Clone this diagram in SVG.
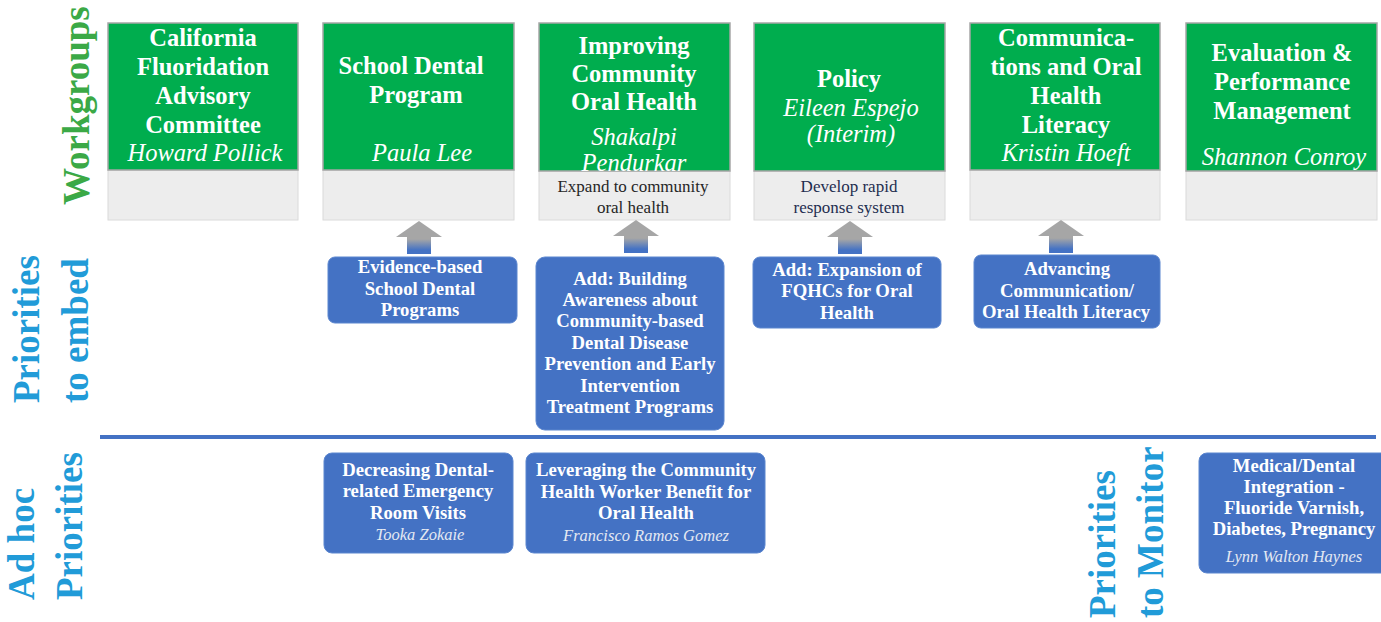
<svg xmlns="http://www.w3.org/2000/svg" width="1381" height="622" viewBox="0 0 1381 622">
<defs>
<linearGradient id="ag" x1="0" y1="0" x2="0" y2="1">
<stop offset="0" stop-color="#A6A6A6"/>
<stop offset="0.55" stop-color="#A6A6A6"/>
<stop offset="0.88" stop-color="#4472C4"/>
<stop offset="1" stop-color="#4472C4"/>
</linearGradient>
<style>
.g{fill:#00AD4E;stroke:#A6A6A6;stroke-width:1.5}
.gb{fill:#EDEDED;stroke:#DADADA;stroke-width:1}
.b{fill:#4472C4;stroke:#5B86CF;stroke-width:1}
.t{font-family:"Liberation Serif",serif;fill:#fff;text-anchor:middle}
.wt{font-size:24.5px;font-weight:bold}
.wn{font-size:24.5px;font-style:italic}
.gt{font-size:17px;fill:#262626}
.bt{font-size:18.7px;font-weight:bold}
.bn{font-size:16.5px;font-style:italic;fill:#E4E9F2}
.lab{font-family:"Liberation Serif",serif;font-size:37px;font-weight:bold}
.arr{fill:url(#ag)}
</style>
</defs>
<rect width="1381" height="622" fill="#fff"/>

<g id="label-workgroups"><text class="lab" fill="#3BA946" transform="translate(89,205) rotate(-90)">Workgroups</text></g>
<g id="label-embed" fill="#219BD8">
<text class="lab" transform="translate(39,403) rotate(-90)">Priorities</text>
<text class="lab" transform="translate(88,403) rotate(-90)">to embed</text>
</g>
<g id="label-adhoc" fill="#219BD8">
<text class="lab" transform="translate(34,600) rotate(-90)">Ad hoc</text>
<text class="lab" transform="translate(82,600) rotate(-90)">Priorities</text>
</g>
<g id="label-monitor" fill="#219BD8">
<text class="lab" transform="translate(1115,618) rotate(-90)">Priorities</text>
<text class="lab" transform="translate(1163,618) rotate(-90)">to Monitor</text>
</g>

<g id="wg1">
<rect class="gb" x="108" y="170" width="190" height="50"/>
<rect class="g" x="108" y="23" width="190" height="147"/>
<text class="t wt" x="203" y="46">California</text>
<text class="t wt" x="203" y="75">Fluoridation</text>
<text class="t wt" x="203" y="104">Advisory</text>
<text class="t wt" x="203" y="133">Committee</text>
<text class="t wn" x="205" y="161">Howard Pollick</text>
</g>
<g id="wg2">
<rect class="gb" x="323" y="170" width="191" height="50"/>
<rect class="g" x="323" y="23" width="191" height="147"/>
<text class="t wt" x="411" y="74">School Dental</text>
<text class="t wt" x="416" y="103">Program</text>
<text class="t wn" x="422" y="161">Paula Lee</text>
</g>
<g id="wg3">
<rect class="gb" x="539" y="171" width="191" height="49"/>
<rect class="g" x="539" y="23" width="191" height="148"/>
<text class="t wt" x="634" y="54">Improving</text>
<text class="t wt" x="634" y="82">Community</text>
<text class="t wt" x="634" y="110">Oral Health</text>
<text class="t wn" x="634" y="145">Shakalpi</text>
<text class="t wn" x="634" y="171">Pendurkar</text>
<text class="t gt" x="633" y="192">Expand to community</text>
<text class="t gt" x="633" y="213">oral health</text>
</g>
<g id="wg4">
<rect class="gb" x="754" y="171" width="191" height="49"/>
<rect class="g" x="754" y="23" width="191" height="148"/>
<text class="t wt" x="849" y="87">Policy</text>
<text class="t wn" x="851" y="116">Eileen Espejo</text>
<text class="t wn" x="851" y="142">(Interim)</text>
<text class="t gt" x="849" y="192" style="fill:#1F2D50">Develop rapid</text>
<text class="t gt" x="849" y="213" style="fill:#1F2D50">response system</text>
</g>
<g id="wg5">
<rect class="gb" x="970" y="170" width="190" height="50"/>
<rect class="g" x="970" y="23" width="190" height="147"/>
<text class="t wt" x="1066" y="46">Communica-</text>
<text class="t wt" x="1066" y="75">tions and Oral</text>
<text class="t wt" x="1066" y="104">Health</text>
<text class="t wt" x="1066" y="133">Literacy</text>
<text class="t wn" x="1066" y="161">Kristin Hoeft</text>
</g>
<g id="wg6">
<rect class="gb" x="1186" y="171" width="191" height="49"/>
<rect class="g" x="1186" y="23" width="191" height="148"/>
<text class="t wt" x="1282" y="61">Evaluation &amp;</text>
<text class="t wt" x="1282" y="90">Performance</text>
<text class="t wt" x="1282" y="119">Management</text>
<text class="t wn" x="1284" y="165">Shannon Conroy</text>
</g>

<g id="connectors">
<path class="arr" d="M419,221 L442,237 L431,237 L431,254 L407,254 L407,237 L396,237 Z"/>
<path class="arr" d="M636,220 L659,236 L648,236 L648,253 L624,253 L624,236 L613,236 Z"/>
<path class="arr" d="M850,221 L873,237 L862,237 L862,254 L838,254 L838,237 L827,237 Z"/>
<path class="arr" d="M1061,220 L1084,236 L1073,236 L1073,253 L1049,253 L1049,236 L1038,236 Z"/>
<line x1="100" y1="437" x2="1376" y2="437" stroke="#4472C4" stroke-width="4"/>
</g>

<g id="p1">
<rect class="b" x="328" y="257" width="189" height="66" rx="7"/>
<text class="t bt" x="420" y="273">Evidence-based</text>
<text class="t bt" x="420" y="295">School Dental</text>
<text class="t bt" x="420" y="316">Programs</text>
</g>
<g id="p2">
<rect class="b" x="536" y="257" width="188" height="173" rx="9"/>
<text class="t bt" x="630" y="285">Add: Building</text>
<text class="t bt" x="630" y="306">Awareness about</text>
<text class="t bt" x="630" y="327">Community-based</text>
<text class="t bt" x="630" y="349">Dental Disease</text>
<text class="t bt" x="630" y="370">Prevention and Early</text>
<text class="t bt" x="630" y="392">Intervention</text>
<text class="t bt" x="630" y="413">Treatment Programs</text>
</g>
<g id="p3">
<rect class="b" x="753" y="257" width="188" height="71" rx="7"/>
<text class="t bt" x="847" y="276">Add: Expansion of</text>
<text class="t bt" x="847" y="297">FQHCs for Oral</text>
<text class="t bt" x="847" y="319">Health</text>
</g>
<g id="p4">
<rect class="b" x="974" y="255" width="186" height="73" rx="7"/>
<text class="t bt" x="1067" y="275">Advancing</text>
<text class="t bt" x="1067" y="297">Communication/</text>
<text class="t bt" x="1066" y="318">Oral Health Literacy</text>
</g>
<g id="a1">
<rect class="b" x="324" y="453" width="189" height="100" rx="8"/>
<text class="t bt" x="418" y="476">Decreasing Dental-</text>
<text class="t bt" x="418" y="497">related Emergency</text>
<text class="t bt" x="418" y="519">Room Visits</text>
<text class="t bn" x="420" y="540">Tooka Zokaie</text>
</g>
<g id="a2">
<rect class="b" x="526" y="453" width="239" height="100" rx="8"/>
<text class="t bt" x="646" y="476">Leveraging the Community</text>
<text class="t bt" x="646" y="498">Health Worker Benefit for</text>
<text class="t bt" x="646" y="519">Oral Health</text>
<text class="t bn" x="646" y="541">Francisco Ramos Gomez</text>
</g>
<g id="m1">
<rect class="b" x="1199" y="453" width="192" height="120" rx="8"/>
<text class="t bt" x="1294" y="472">Medical/Dental</text>
<text class="t bt" x="1294" y="493">Integration -</text>
<text class="t bt" x="1294" y="514">Fluoride Varnish,</text>
<text class="t bt" x="1294" y="535">Diabetes, Pregnancy</text>
<text class="t bn" x="1294" y="562">Lynn Walton Haynes</text>
</g>
</svg>
